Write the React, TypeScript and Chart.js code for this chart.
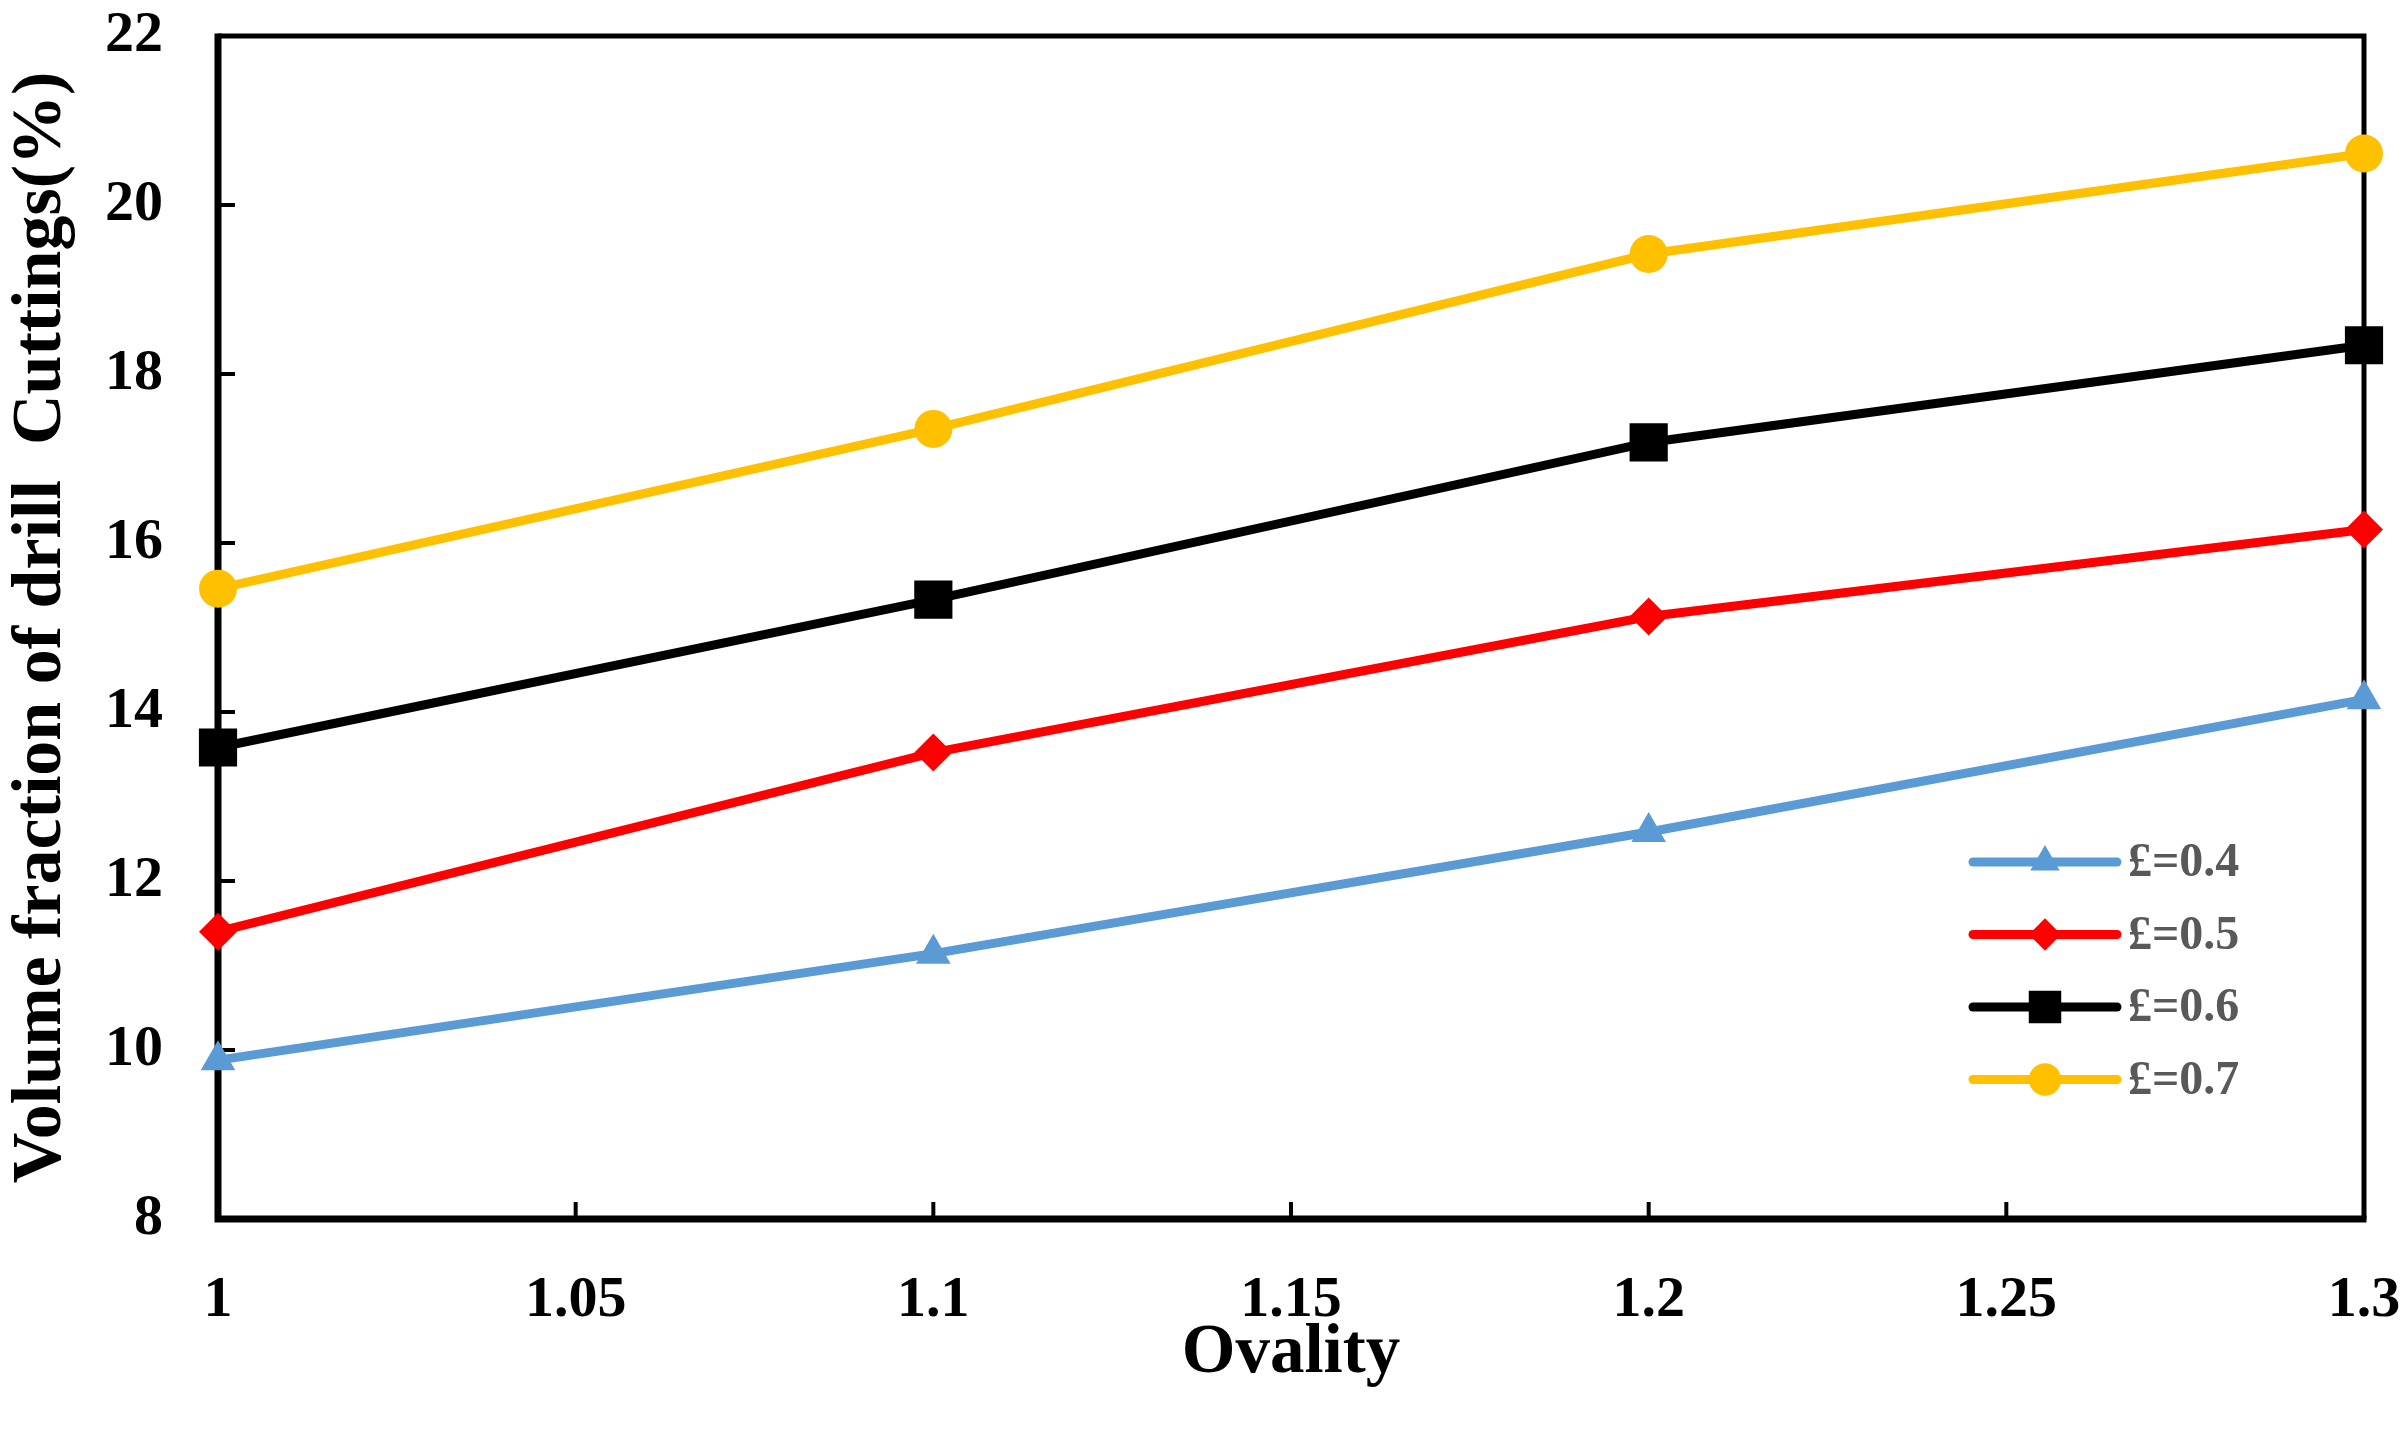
import React, { useEffect, useRef } from "react";
import { Chart, registerables } from "chart.js";

Chart.register(...registerables);

const ovality = [1, 1.1, 1.2, 1.3];
const seriesLabels = ["£=0.4", "£=0.5", "£=0.6", "£=0.7"];
const series04 = [9.88, 11.14, 12.58, 14.15];
const series05 = [11.4, 13.52, 15.13, 16.16];
const series06 = [13.58, 15.33, 17.19, 18.34];
const series07 = [15.46, 17.35, 19.42, 20.61];
const xTickLabels = ["1", "1.05", "1.1", "1.15", "1.2", "1.25", "1.3"];
const yTickLabels = ["8", "10", "12", "14", "16", "18", "20", "22"];
const xTitle = "Ovality";
const yTitle = "Volume fraction of drill  Cuttings(%)";

const colors = ["#5B9BD5", "#FF0000", "#000000", "#FFC000"];
const pointStyles = ["triangle", "rectRot", "rect", "circle"];
const pointRadii = [20, 19, 27, 19];

const FONT = "'Liberation Serif', 'Times New Roman', serif";

function drawMarker(ctx: CanvasRenderingContext2D, style: string, x: number, y: number, r: number) {
  ctx.beginPath();
  if (style === "circle") {
    ctx.arc(x, y, r, 0, Math.PI * 2);
  } else if (style === "rect") {
    const s = Math.SQRT1_2 * r;
    ctx.rect(x - s, y - s, 2 * s, 2 * s);
  } else if (style === "rectRot") {
    ctx.moveTo(x, y - r);
    ctx.lineTo(x + r, y);
    ctx.lineTo(x, y + r);
    ctx.lineTo(x - r, y);
    ctx.closePath();
  } else if (style === "triangle") {
    const a = (2 * Math.PI) / 3;
    ctx.moveTo(x, y - r);
    ctx.lineTo(x + Math.sin(a) * r, y - Math.cos(a) * r);
    ctx.lineTo(x + Math.sin(2 * a) * r, y - Math.cos(2 * a) * r);
    ctx.closePath();
  }
  ctx.fill();
}

const framePlugin = {
  id: "frame",
  beforeDatasetsDraw(chart: any) {
    const { ctx, chartArea } = chart;
    const { left, right, top, bottom } = chartArea;
    const xs = chart.scales.x;
    const ys = chart.scales.y;
    ctx.save();
    ctx.strokeStyle = "#000";
    ctx.lineWidth = 5;
    ctx.beginPath();
    ctx.moveTo(left, top);
    ctx.lineTo(right, top);
    ctx.lineTo(right, bottom);
    ctx.stroke();
    ctx.lineWidth = 7;
    ctx.beginPath();
    ctx.moveTo(left, top - 2.5);
    ctx.lineTo(left, bottom);
    ctx.lineTo(right + 2.5, bottom);
    ctx.stroke();
    ctx.lineWidth = 4;
    ctx.beginPath();
    ys.ticks.forEach((t: any) => {
      const py = ys.getPixelForValue(t.value);
      ctx.moveTo(left, py);
      ctx.lineTo(left + 17, py);
    });
    xs.ticks.forEach((t: any) => {
      const px = xs.getPixelForValue(t.value);
      ctx.moveTo(px, bottom);
      ctx.lineTo(px, bottom - 17);
    });
    ctx.stroke();
    ctx.restore();
  },
};

const legendPlugin = {
  id: "customLegend",
  afterDatasetsDraw(chart: any) {
    const { ctx } = chart;
    const x0 = 1973;
    const x1 = 2117;
    const tx = 2128;
    const y0 = 862;
    const dy = 72.5;
    ctx.save();
    chart.data.datasets.forEach((ds: any, i: number) => {
      const y = y0 + dy * i;
      ctx.strokeStyle = ds.borderColor;
      ctx.fillStyle = ds.backgroundColor;
      ctx.lineWidth = ds.borderWidth;
      ctx.lineCap = "round";
      ctx.beginPath();
      ctx.moveTo(x0, y);
      ctx.lineTo(x1, y);
      ctx.stroke();
      drawMarker(ctx, ds.pointStyle, (x0 + x1) / 2, y, ds.pointRadius * 0.85);
      ctx.fillStyle = "#595959";
      ctx.font = `bold 48px ${FONT}`;
      ctx.textBaseline = "middle";
      ctx.textAlign = "left";
      ctx.fillText(ds.label, tx, y + 2);
    });
    ctx.restore();
  },
};

export default function App() {
  const canvasRef = useRef<HTMLCanvasElement | null>(null);

  useEffect(() => {
    if (!canvasRef.current) return;
    const allSeries = [series04, series05, series06, series07];
    const datasets = allSeries.map((vals, i) => ({
      label: seriesLabels[i],
      data: ovality.map((x, j) => ({ x, y: vals[j] })),
      borderColor: colors[i],
      backgroundColor: colors[i],
      borderWidth: 9,
      pointStyle: pointStyles[i],
      pointRadius: pointRadii[i],
      pointBorderWidth: 0,
      pointBackgroundColor: colors[i],
      pointBorderColor: colors[i],
      tension: 0,
      clip: false as any,
    }));

    const chart = new Chart(canvasRef.current, {
      type: "line",
      data: { datasets },
      options: {
        animation: false,
        responsive: true,
        maintainAspectRatio: false,
        devicePixelRatio: 1,
        layout: { padding: { top: 36, right: 43, left: 0, bottom: 0 } },
        plugins: {
          legend: { display: false },
          tooltip: { enabled: false },
        },
        scales: {
          x: {
            type: "linear",
            min: 1,
            max: 1.3,
            grid: { display: false, drawTicks: false },
            border: { display: false },
            ticks: {
              stepSize: 0.05,
              padding: 47,
              color: "#000",
              font: { family: FONT, size: 58, weight: "bold" },
              callback: (_v: any, idx: number) => xTickLabels[idx],
            },
            title: {
              display: true,
              text: xTitle,
              color: "#000",
              font: { family: FONT, size: 69, weight: "bold" },
              padding: { top: 0, bottom: 44 },
            },
            afterFit: (scale: any) => {
              scale.height = 221;
              scale.paddingLeft = 0;
              scale.paddingRight = 0;
            },
          },
          y: {
            type: "linear",
            min: 8,
            max: 22,
            grid: { display: false, drawTicks: false },
            border: { display: false },
            ticks: {
              stepSize: 2,
              padding: 55,
              color: "#000",
              font: { family: FONT, size: 58, weight: "bold" },
              callback: (_v: any, idx: number) => yTickLabels[idx],
            },
            title: {
              display: true,
              text: yTitle,
              color: "#000",
              font: { family: FONT, size: 70, weight: "bold" },
              padding: { top: 0, bottom: 0 },
            },
            afterFit: (scale: any) => {
              scale.width = 218;
              scale.paddingTop = 0;
              scale.paddingBottom = 0;
            },
          },
        },
      },
      plugins: [framePlugin, legendPlugin],
    });
    return () => chart.destroy();
  }, []);

  return (
    <div style={{ position: "fixed", left: 0, top: 0, width: 2407, height: 1440, background: "#fff" }}>
      <canvas ref={canvasRef} />
    </div>
  );
}
